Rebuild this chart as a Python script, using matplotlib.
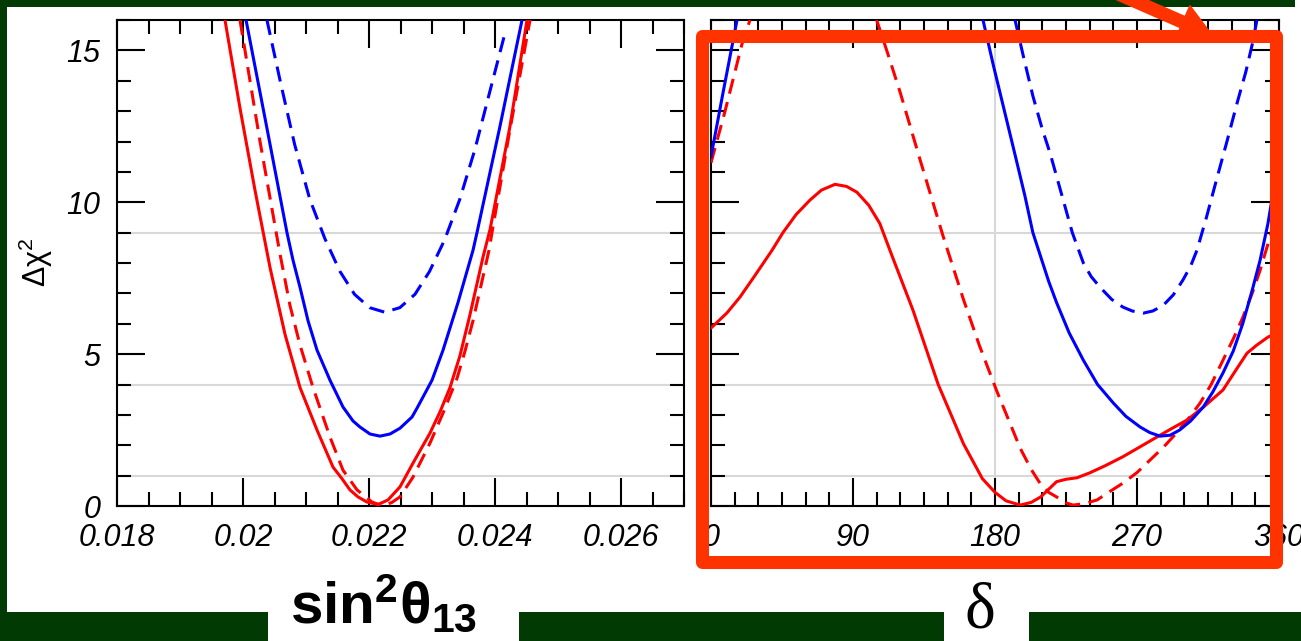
import numpy as np
import matplotlib.pyplot as plt
from matplotlib.patches import Rectangle, FancyArrow
from matplotlib.transforms import IdentityTransform
from matplotlib.ticker import MultipleLocator

# ---- data ----
# left panel: delta chi^2 vs sin^2(theta13)
s13_red_solid_x = [0.019714, 0.019952, 0.020190, 0.020429, 0.020667, 0.020905, 0.021175, 0.021429,
                   0.021571, 0.021698, 0.021825, 0.021968, 0.022143, 0.022302, 0.022492, 0.022698,
                   0.022968, 0.023127, 0.023286, 0.023444, 0.023603, 0.023810, 0.023921, 0.024238,
                   0.024508]
s13_red_solid_y = [16.0, 13.1, 10.4, 7.85, 5.65, 3.9, 2.5, 1.28,
                   0.9, 0.53, 0.3, 0.13, 0.05, 0.2, 0.63, 1.41,
                   2.4, 3.1, 3.9, 4.95, 6.3, 8.2, 9.1, 12.5,
                   16.0]

s13_red_dash_x = [0.019952, 0.020270, 0.020587, 0.020746, 0.020905, 0.021111, 0.021381, 0.021587,
                  0.021810, 0.022048, 0.022222, 0.022365, 0.022492, 0.022698, 0.022968, 0.023175,
                  0.023397, 0.023524, 0.023651, 0.023905, 0.023952, 0.024238, 0.024556]
s13_red_dash_y = [16.0, 12.0, 8.3, 6.6, 5.3, 3.9, 2.27, 1.18,
                  0.53, 0.13, 0.0, 0.12, 0.3, 0.95, 2.07, 3.06,
                  4.2, 5.1, 6.1, 8.42, 9.0, 12.4, 16.0]

s13_blue_solid_x = [0.020048, 0.020365, 0.020698, 0.020794, 0.020905, 0.021032, 0.021175, 0.021381,
                    0.021587, 0.021746, 0.021857, 0.022016, 0.022175, 0.022333, 0.022492, 0.022683,
                    0.022762, 0.023000, 0.023175, 0.023413, 0.023651, 0.023714, 0.024079, 0.024429]
s13_blue_solid_y = [16.0, 12.6, 9.0, 8.09, 7.2, 6.1, 5.13, 4.14,
                    3.26, 2.8, 2.6, 2.37, 2.3, 2.37, 2.56, 2.93,
                    3.22, 4.14, 5.13, 6.7, 8.42, 9.0, 12.5, 16.0]

s13_blue_dash_x = [0.02038, 0.02060, 0.02082, 0.02106, 0.02130, 0.02154, 0.02177, 0.02201, 0.02225,
                   0.02249, 0.02273, 0.02296, 0.02320, 0.02344, 0.02368, 0.02392, 0.02417]
s13_blue_dash_y = [16.0, 13.9, 11.9, 10.1, 8.8, 7.72, 6.97, 6.53, 6.38,
                   6.53, 6.97, 7.72, 8.76, 10.09, 11.73, 13.66, 15.66]

# right panel: delta chi^2 vs delta (deg); nan splits where a curve leaves the frame
d_red_solid_x = [0, 10, 18.4, 28, 38.7, 45.6, 54, 62.7, 70, 78.6, 86, 92.5, 100, 107, 115, 128, 144,
                 160, 172, 180, 187, 196, 203, 209, 215, 219, 225, 232, 240, 250, 261, 272, 282.6,
                 292, 301.7, 312, 324.5, 333, 339.7, 346, 353, 360]
d_red_solid_y = [5.86, 6.35, 6.88, 7.6, 8.42, 9.0, 9.6, 10.07, 10.4, 10.59, 10.52, 10.33, 9.9, 9.3,
                 8.2, 6.45, 4.0, 2.05, 0.9, 0.45, 0.17, 0.03, 0.12, 0.3, 0.6, 0.8, 0.88, 0.93, 1.09,
                 1.33, 1.62, 1.95, 2.27, 2.55, 2.83, 3.25, 3.82, 4.5, 5.03, 5.3, 5.56, 5.75]

d_red_dash_x = [0, 8.9, 19.6, 24.7, np.nan, 105, 112, 120, 132.5, 147, 160, 170, 181, 196, 203, 208.5,
                214, 219, 224, 229.5, 237, 244.7, 252, 261, 270, 278, 287, 295, 303, 310, 317, 324.5,
                331, 337, 343, 348, 354, 360]
d_red_dash_y = [11.3, 13.0, 15.2, 16.0, np.nan, 16.0, 14.9, 13.6, 11.4, 8.9, 6.8, 5.3, 3.8, 1.9, 1.2,
                0.75, 0.45, 0.3, 0.12, 0.03, 0.08, 0.2, 0.45, 0.75, 1.1, 1.5, 1.95, 2.4, 2.9, 3.39, 4.0,
                4.8, 5.5, 6.2, 7.0, 7.76, 8.8, 10.0]

d_blue_solid_x = [0, 7.6, 16.5, np.nan, 172.4, 179, 186, 193, 199, 204, 209, 214, 219, 227, 236, 245,
                  255, 263, 272, 278, 284.6, 291, 297, 304, 312, 318, 324.5, 331, 337, 343, 348, 353,
                  360]
d_blue_solid_y = [11.5, 13.6, 16.0, np.nan, 16.0, 14.5, 13.0, 11.5, 10.2, 9.0, 8.2, 7.4, 6.7, 5.7, 4.8,
                  4.0, 3.39, 2.95, 2.6, 2.42, 2.3, 2.33, 2.5, 2.8, 3.26, 3.75, 4.38, 5.1, 6.0, 7.1,
                  8.09, 9.3, 11.5]

d_blue_dash_x = [192.7, 198, 204, 210, 215, 222, 229, 236, 241, 246.6, 254, 261, 267, 274, 280, 286.5,
                 293, 299, 304, 308, 314, 320.7, 327, 333.4, 339, 343.5, 346]
d_blue_dash_y = [16.0, 14.8, 13.5, 12.4, 11.6, 10.3, 9.0, 8.0, 7.55, 7.2, 6.8, 6.55, 6.42, 6.35, 6.42,
                 6.6, 6.95, 7.43, 7.9, 8.42, 9.5, 10.8, 12.0, 13.26, 14.3, 15.3, 16.0]

grid_levels = [1, 4, 9]
s13_ticks = [0.018, 0.02, 0.022, 0.024, 0.026]
s13_labels = ['0.018', '0.02', '0.022', '0.024', '0.026']
d_ticks = [0, 90, 180, 270, 360]
d_labels = ['0', '90', '180', '270', '360']
chi_ticks = [0, 5, 10, 15]
chi_labels = ['0', '5', '10', '15']

# ---- style ----
plt.rcParams['font.family'] = ['Liberation Sans', 'DejaVu Sans']
plt.rcParams['mathtext.fontset'] = 'custom'
plt.rcParams['mathtext.rm'] = 'Liberation Sans'
plt.rcParams['mathtext.it'] = 'Liberation Sans:italic'
plt.rcParams['mathtext.bf'] = 'Liberation Sans:bold'
plt.rcParams['lines.solid_joinstyle'] = 'round'
plt.rcParams['lines.dash_joinstyle'] = 'round'

W, H = 1301, 641
GREEN = '#023a03'
fig = plt.figure(figsize=(W / 100, H / 100), dpi=100, facecolor=GREEN)


def frac_box(x0, y0, x1, y1):
    # pixel box (top-left origin) -> figure fraction [left, bottom, width, height]
    return [x0 / W, 1 - y1 / H, (x1 - x0) / W, (y1 - y0) / H]


# white page areas on the green background
for x0, y0, x1, y1 in [(7, 7, W, 612), (1295, 0, W, 7), (268, 612, 519, H), (944, 612, 1029, H)]:
    l, b, w, h = frac_box(x0, y0, x1, y1)
    fig.add_artist(Rectangle((l, b), w, h, transform=fig.transFigure,
                             facecolor='white', edgecolor='none', zorder=-5))

ax1 = fig.add_axes(frac_box(117, 20, 684, 506))
ax2 = fig.add_axes(frac_box(711, 20, 1279, 506))

lw = 2.2
dash = (5.0, 2.8)
ax1.plot(s13_red_solid_x, s13_red_solid_y, color='red', lw=lw, zorder=3)
ax1.plot(s13_red_dash_x, s13_red_dash_y, color='red', lw=lw, dashes=dash, zorder=3)
ax1.plot(s13_blue_solid_x, s13_blue_solid_y, color='blue', lw=lw, zorder=3)
ax1.plot(s13_blue_dash_x, s13_blue_dash_y, color='blue', lw=lw, dashes=dash, zorder=3)

ax2.plot(d_red_solid_x, d_red_solid_y, color='red', lw=lw, zorder=3)
ax2.plot(d_red_dash_x, d_red_dash_y, color='red', lw=lw, dashes=dash, zorder=3)
ax2.plot(d_blue_solid_x, d_blue_solid_y, color='blue', lw=lw, zorder=3)
ax2.plot(d_blue_dash_x, d_blue_dash_y, color='blue', lw=lw, dashes=dash, zorder=3)

for ax in (ax1, ax2):
    for g in grid_levels:
        ax.axhline(g, color='#d8d8d8', lw=1.5, zorder=1)
    ax.set_ylim(0, 16)
    ax.set_yticks(chi_ticks)
    ax.yaxis.set_minor_locator(MultipleLocator(1))
    ax.tick_params(which='both', direction='in', top=True, right=True, width=1.5,
                   labelsize=22, pad=12, colors='black')
    ax.tick_params(which='major', length=20)
    ax.tick_params(which='minor', length=10)
    for s in ax.spines.values():
        s.set_linewidth(1.5)
ax2.axvline(180, color='#d8d8d8', lw=1.5, zorder=1)

ax1.set_xlim(0.018, 0.027)
ax1.set_xticks(s13_ticks, s13_labels, fontstyle='italic')
ax1.xaxis.set_minor_locator(MultipleLocator(0.0005))
ax1.set_yticklabels(chi_labels, fontstyle='italic')

ax2.set_xlim(0, 360)
ax2.set_xticks(d_ticks, d_labels, fontstyle='italic')
ax2.xaxis.set_minor_locator(MultipleLocator(15))
ax2.tick_params(labelleft=False)

# axis titles
fig.text(36 / W, 1 - 262 / H, r'$\mathregular{\Delta\chi^2}$', rotation=90,
         ha='center', va='center', fontsize=22)
fig.text(384 / W, 1 - 623 / H, r'$\mathbf{sin^2θ_{13}}$', ha='center', va='baseline',
         fontsize=42)
fig.text(980 / W, 1 - 627 / H, 'δ', ha='center', va='baseline', fontsize=47,
         family=['Liberation Serif', 'DejaVu Serif'])

# red highlight frame and arrow (pixel coordinates)
ORANGE = '#ff3300'
fig.add_artist(Rectangle((701.5, H - 561.5), 1276 - 701.5, 561.5 - 36, fill=False,
                         edgecolor=ORANGE, lw=9.4, joinstyle='round',
                         transform=IdentityTransform(), zorder=10))
fig.add_artist(FancyArrow(1073, H + 26, 139, -61, width=12, head_width=36, head_length=32,
                          length_includes_head=True, color=ORANGE,
                          transform=IdentityTransform(), zorder=10))

fig.savefig('out.png', dpi=100, facecolor=GREEN)
